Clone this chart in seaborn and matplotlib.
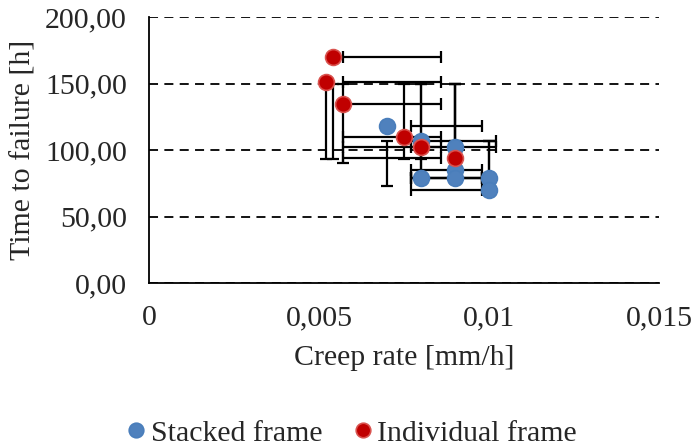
import matplotlib
matplotlib.use("Agg")
import matplotlib.pyplot as plt
import seaborn as sns
import pandas as pd
import numpy as np
from matplotlib.lines import Line2D

# ---- data ----
stacked_x = [0.0070, 0.0080, 0.0090, 0.0090, 0.0090, 0.0080, 0.0100, 0.0100]
stacked_y = [118, 107, 102, 85, 79, 79, 79, 70]
stacked_xlo = [0.0077, 0.0077, 0.0077, 0.0077, 0.0077, 0.0077, 0.0077, 0.0077]
stacked_xhi = [0.0098, 0.0102, 0.0102, 0.0098, 0.0098, 0.0098, 0.0098, 0.0098]
stacked_ylo = [73, 78, 75, 78, 75, 75, 78, 78]
stacked_yhi = [107, 150, 150, 150, 107, 107, 107, 107]

indiv_x = [0.0054, 0.0052, 0.0057, 0.0075, 0.0080, 0.0090]
indiv_y = [170, 151, 135, 110, 102, 94]
indiv_xlo = [0.0057, 0.0057, 0.0057, 0.0057, 0.0057, 0.0057]
indiv_xhi = [0.0086, 0.0086, 0.0086, 0.0086, 0.0086, 0.0086]
indiv_ylo = [93, 93, 90, 93, 93, 93]
indiv_yhi = [150, 150, 150, 150, 150, 150]

series_names = ["Stacked frame", "Individual frame"]
x_ticks = [0, 0.005, 0.01, 0.015]
x_ticklabels = ["0", "0,005", "0,01", "0,015"]
y_ticks = [0, 50, 100, 150, 200]
y_ticklabels = ["0,00", "50,00", "100,00", "150,00", "200,00"]
x_label = "Creep rate [mm/h]"
y_label = "Time to failure [h]"

# ---- style ----
sns.set_style("white")
plt.rcParams["font.family"] = ["Liberation Serif", "DejaVu Serif"]
FS = 21.5

df = pd.DataFrame({
    "x": stacked_x + indiv_x,
    "y": stacked_y + indiv_y,
    "series": [series_names[0]] * len(stacked_x) + [series_names[1]] * len(indiv_x),
})

fig = plt.figure(figsize=(6.95, 4.48), dpi=100)
ax = fig.add_axes([0.2144, 0.368, 0.7338, 0.594])

ebkw = dict(fmt="none", ecolor="black", elinewidth=1.6, capsize=4.2, capthick=1.6, zorder=2)
for xs, ys, xlo, xhi, ylo, yhi in [
    (stacked_x, stacked_y, stacked_xlo, stacked_xhi, stacked_ylo, stacked_yhi),
    (indiv_x, indiv_y, indiv_xlo, indiv_xhi, indiv_ylo, indiv_yhi),
]:
    xs, ys = np.array(xs), np.array(ys)
    xlo, xhi, ylo, yhi = map(np.array, (xlo, xhi, ylo, yhi))
    ax.errorbar((xlo + xhi) / 2, ys, xerr=(xhi - xlo) / 2, **ebkw)
    ax.errorbar(xs, (ylo + yhi) / 2, yerr=(yhi - ylo) / 2, **ebkw)

palette = {series_names[0]: "#4F81BD", series_names[1]: "#C00000"}
edges = {series_names[0]: "#4A7EBB", series_names[1]: "#D9534F"}
for name in series_names:
    sub = df[df["series"] == name]
    sns.scatterplot(data=sub, x="x", y="y", color=palette[name], edgecolor=edges[name],
                    linewidth=1.2, s=130, ax=ax, zorder=3, label=name, legend=False)

ax.set_xlim(0, 0.015)
ax.set_ylim(0, 200)
ax.set_xticks(x_ticks)
ax.set_xticklabels(x_ticklabels, fontsize=FS)
ax.set_yticks(y_ticks)
ax.set_yticklabels(y_ticklabels, fontsize=FS)
ax.set_xlabel(x_label, fontsize=FS, labelpad=10)
ax.set_ylabel(y_label, fontsize=FS, labelpad=6)

ax.grid(axis="y", color="black", linestyle=(0, (5, 3.5)), linewidth=1.3, zorder=0)
ax.grid(axis="x", visible=False)
for s in ["top", "right"]:
    ax.spines[s].set_visible(False)
for s in ["left", "bottom"]:
    ax.spines[s].set_color("black")
    ax.spines[s].set_linewidth(1.3)
ax.tick_params(axis="x", direction="out", length=6, width=1.3, color="black", pad=10)
ax.tick_params(axis="y", direction="inout", length=10, width=1.3, color="black", pad=11)
ax.set_axisbelow(True)

handles = [Line2D([], [], marker="o", linestyle="none", markersize=10.5,
                  markerfacecolor=palette[n], markeredgecolor=edges[n], markeredgewidth=1.2)
           for n in series_names]
fig.legend(handles, series_names, loc="center", bbox_to_anchor=(0.5, 0.033), ncol=2,
           frameon=False, fontsize=FS, handletextpad=-0.1, columnspacing=0.75,
           handlelength=1.2, borderaxespad=0)

fig.savefig("out.png", dpi=100)
